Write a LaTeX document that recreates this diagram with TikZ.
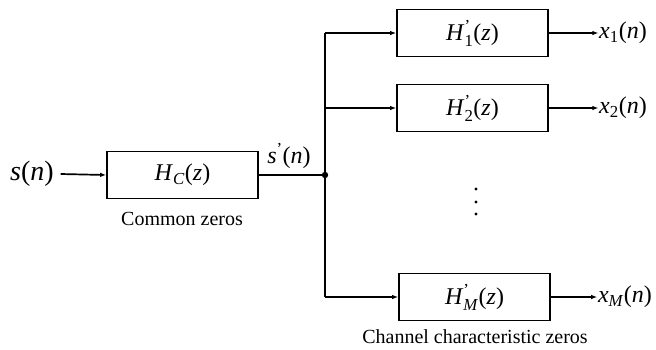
\documentclass[tikz,border=0pt]{standalone}
\usepackage{amsmath}
\usepackage{fontspec}
\setmainfont{Liberation Serif}
\usepackage{tikz}
\usetikzlibrary{arrows.meta}
\newcommand{\vi}[1]{\textit{#1}}
\newcommand{\sigsize}{\fontsize{24}{28}\selectfont}

\begin{document}
\begin{tikzpicture}[x=1pt,y=-1pt,>={Latex[length=6pt,width=4.5pt]},line width=1.7pt,
  filt/.style={draw,minimum width=151pt,minimum height=47pt,inner sep=0pt,font=\sigsize},
  sig/.style={inner sep=0pt,font=\sigsize},
  note/.style={inner sep=0pt,anchor=base,font=\fontsize{20}{24}\selectfont}]
  \useasboundingbox (0,0) rectangle (656,349);
  \node[sig,font=\fontsize{28}{32}\selectfont] (sin) at (32,174) {\vi{s}(\vi{n})};
  \node[filt] (hc) at (182.5,175) {\vi{H}$_{\text{\vi{C}}}$(\vi{z})};
  \node[note] (hcnote) at (182,225) {Common zeros};
  \node[sig] (sout) at (289,156) {\vi{s}$^{\text{'}}$(\vi{n})};
  \coordinate (split) at (325,175);
  \coordinate (top) at (325,33);
  \coordinate (mid) at (325,108);
  \coordinate (bot) at (325,297);
  \node[filt] (h1) at (472.5,33) {\vi{H}$^{\text{'}}_{\text{1}}$(\vi{z})};
  \node[filt] (h2) at (472.5,108) {\vi{H}$^{\text{'}}_{\text{2}}$(\vi{z})};
  \node[filt] (hm) at (474.5,297) {\vi{H}$^{\text{'}}_{\text{\vi{M}}}$(\vi{z})};
  \node[note] (hmnote) at (475,343) {Channel characteristic zeros};
  \node[sig] (x1) at (623,33) {\vi{x}$_{\text{1}}$(\vi{n})};
  \node[sig] (x2) at (623,108) {\vi{x}$_{\text{2}}$(\vi{n})};
  \node[sig] (xm) at (625,297) {\vi{x}$_{\text{\vi{M}}}$(\vi{n})};
  % signal path
  \draw[->] (sin.east) ++(6,0) -- (hc.west);
  \draw (hc.east) -- (split);
  \fill (split) circle (3.2pt);
  \draw (top) -- (bot);
  \draw[->] (top) -- (h1.west);
  \draw[->] (mid) -- (h2.west);
  \draw[->] (bot) -- (hm.west);
  \draw[->] (h1.east) -- (x1.west);
  \draw[->] (h2.east) -- (x2.west);
  \draw[->] (hm.east) -- (xm.west);
  % omitted branches
  \foreach \dy in {189,202,214}
    \fill (476,\dy) circle (1.7pt);
\end{tikzpicture}
\end{document}
